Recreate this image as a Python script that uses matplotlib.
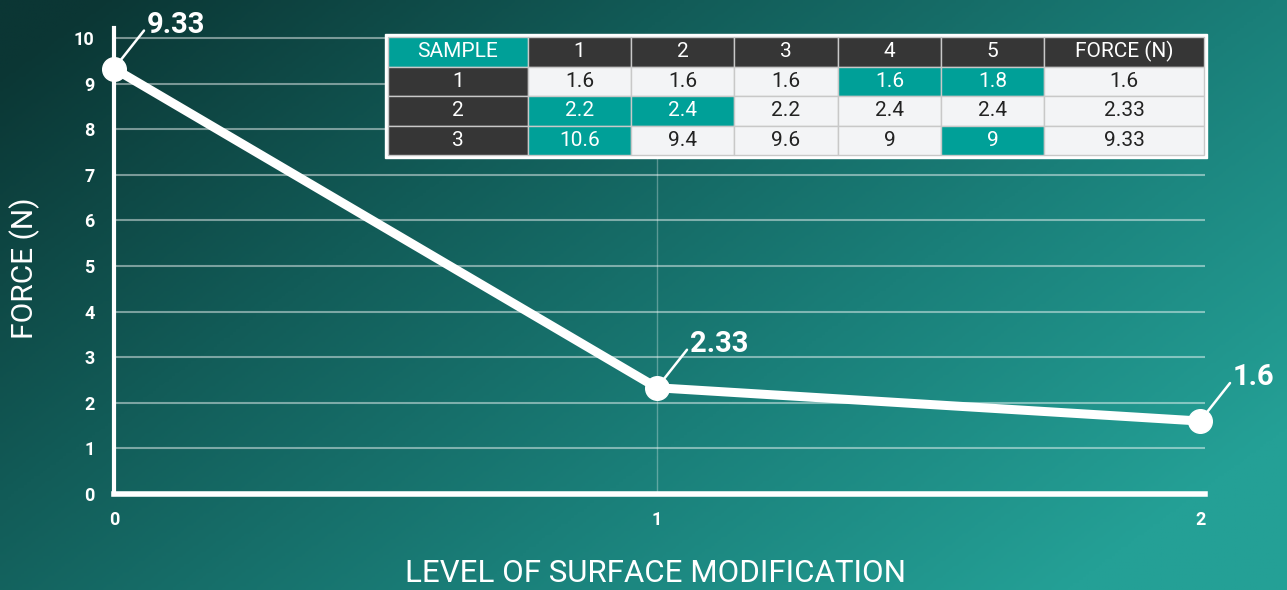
import numpy as np
import matplotlib.pyplot as plt
from matplotlib.colors import LinearSegmentedColormap
from matplotlib.patches import Rectangle

plt.rcParams['font.family'] = ['Roboto', 'DejaVu Sans']

# data
levels = [0, 1, 2]
force = [9.33, 2.33, 1.6]
force_labels = ["9.33", "2.33", "1.6"]

col_labels = ["SAMPLE", "1", "2", "3", "4", "5", "FORCE (N)"]
row_ids = ["1", "2", "3"]
sample_values = [
    ["1.6", "1.6", "1.6", "1.6", "1.8", "1.6"],
    ["2.2", "2.4", "2.2", "2.4", "2.4", "2.33"],
    ["10.6", "9.4", "9.6", "9", "9", "9.33"],
]
highlight = [(1, 4), (1, 5), (2, 1), (2, 2), (3, 1), (3, 5)]

W, H = 1287, 590
TEAL = "#00a098"
DARK = "#363636"
LIGHT = "#f3f4f6"


def main():
    fig = plt.figure(figsize=(W / 100, H / 100), dpi=100)

    # gradient background
    bg = fig.add_axes([0, 0, 1, 1])
    xx, yy = np.meshgrid(np.linspace(0, 1, 400), np.linspace(0, 1, 200))
    t = np.clip(0.72 * xx + 0.45 * yy - 0.05, 0, 1)
    cmap = LinearSegmentedColormap.from_list("bg", ["#0b3634", "#125c58", "#1a7f79", "#24a096"])
    bg.imshow(t, cmap=cmap, aspect="auto", extent=[0, 1, 0, 1], origin="upper")
    bg.axis("off")

    # main axes: x 0..2 -> px 115..1200, y 0..10 -> px 494..38
    x0, x1 = 114, 1205
    ytop = 28
    ax = fig.add_axes([x0 / W, (H - 494) / H, (x1 - x0) / W, (494 - ytop) / H])
    ax.patch.set_alpha(0)
    ax.set_xlim(0, 2 * (x1 - x0) / (1200 - x0))
    ymax = 10 * (494 - ytop) / 456
    ax.set_ylim(0, ymax)

    for y in range(1, 11):
        ax.axhline(y, color="white", alpha=0.45, lw=1.5, zorder=1)
    ax.axvline(1, ymax=10 / ymax, color="white", alpha=0.3, lw=1, zorder=1)

    for s in ["top", "right"]:
        ax.spines[s].set_visible(False)
    ax.spines["left"].set_color("white")
    ax.spines["left"].set_linewidth(3)
    ax.spines["bottom"].set_color("white")
    ax.spines["bottom"].set_linewidth(4)

    ax.set_xticks(levels)
    ax.set_yticks(range(0, 11))
    ax.tick_params(length=0, colors="white", labelsize=13)
    for lab in ax.get_xticklabels() + ax.get_yticklabels():
        lab.set_fontweight("bold")
    ax.tick_params(axis="x", pad=12)
    ax.tick_params(axis="y", pad=14)

    ax.plot(levels, force, color="white", lw=6.5, marker="o", ms=17,
            solid_capstyle="round", zorder=5, clip_on=False)

    for x, y, lab in zip(levels, force, force_labels):
        ax.annotate("", xy=(x, y), xycoords="data",
                    xytext=(30, 38), textcoords="offset pixels",
                    arrowprops=dict(arrowstyle="-", color="white", lw=1.8,
                                    shrinkA=0, shrinkB=8))
        ax.annotate(lab, xy=(x, y), xycoords="data",
                    xytext=(33, 44), textcoords="offset pixels",
                    fontsize=21, fontweight="bold", color="white",
                    ha="left", va="center", zorder=6, annotation_clip=False)

    fig.text(25 / W, 1 - 268 / H, "FORCE (N)", rotation=90, color="white",
             fontsize=21.5, ha="center", va="center")
    fig.text(655 / W, 1 - 573 / H, "LEVEL OF SURFACE MODIFICATION", color="white",
             fontsize=22.5, ha="center", va="center")

    # table
    tl, tr, tt, tb = 388, 1204, 37, 155
    tax = fig.add_axes([tl / W, (H - tb) / H, (tr - tl) / W, (tb - tt) / H])
    tax.axis("off")
    fig.patches.append(Rectangle(((tl - 3) / W, (H - tb - 3) / H), (tr - tl + 6) / W,
                                 (tb - tt + 6) / H, transform=fig.transFigure,
                                 color="white", zorder=2))
    tax.set_zorder(3)

    cells = [[r] + v for r, v in zip(row_ids, sample_values)]
    colours = [[DARK] + [LIGHT] * 6 for _ in row_ids]
    for r, c in highlight:
        colours[r - 1][c] = TEAL
    widths = [140, 103, 103, 104, 103, 103, 160]
    tbl = tax.table(cellText=cells, colLabels=col_labels, cellColours=colours,
                    colColours=[TEAL] + [DARK] * 6, colWidths=widths,
                    cellLoc="center", bbox=[0, 0, 1, 1])
    tbl.auto_set_font_size(False)
    for (r, c), cell in tbl.get_celld().items():
        cell.set_edgecolor("#c8c8c8")
        cell.set_linewidth(1)
        txt = cell.get_text()
        txt.set_fontsize(15)
        if r == 0 or c == 0 or (r, c) in highlight:
            txt.set_color("white")
        else:
            txt.set_color("#222222")

    fig.savefig("out.png", dpi=100)


if __name__ == "__main__":
    main()
